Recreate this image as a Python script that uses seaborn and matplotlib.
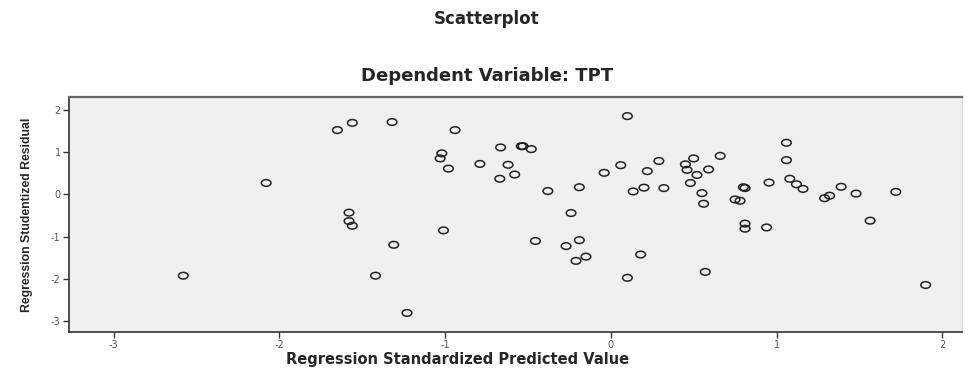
import numpy as np
import pandas as pd
import matplotlib
matplotlib.use("Agg")
import matplotlib.pyplot as plt
from matplotlib.path import Path
import seaborn as sns

predicted = [
    -2.08, -2.58,
    -1.65, -1.56, -1.32, -0.94, 0.10, -1.02, -1.03, -0.98, -0.665, -0.54,
    -0.53, -0.48, -0.79, -0.62, -0.58, -0.67, -0.38, -0.19, -0.04, 0.06,
    0.22, 0.135, 0.20, -1.58, -1.58, -1.56, -1.01, -1.31, -1.42, -1.23,
    -0.24, -0.455, -0.27, -0.19, -0.15, -0.21, 0.18, 0.10,
    0.29, 0.50, 0.66, 0.45, 0.46, 0.52, 0.59, 0.48, 0.32, 0.55, 0.56,
    1.06, 1.06, 1.08, 1.12, 1.16, 0.80, 0.81, 0.75, 0.78, 0.955, 0.81,
    0.81, 0.94, 0.57, 1.29, 1.32, 1.39, 1.48, 1.565, 1.72, 1.90,
]
residual = [
    0.27, -1.92,
    1.52, 1.69, 1.71, 1.52, 1.85, 0.97, 0.85, 0.61, 1.11, 1.14,
    1.14, 1.07, 0.72, 0.70, 0.47, 0.37, 0.08, 0.17, 0.51, 0.69,
    0.55, 0.07, 0.16, -0.43, -0.63, -0.74, -0.85, -1.19, -1.92, -2.80,
    -0.44, -1.10, -1.22, -1.08, -1.47, -1.57, -1.42, -1.97,
    0.79, 0.85, 0.91, 0.71, 0.58, 0.46, 0.59, 0.27, 0.15, 0.03, -0.22,
    1.22, 0.81, 0.37, 0.24, 0.13, 0.17, 0.15, -0.12, -0.15, 0.28, -0.69,
    -0.81, -0.78, -1.83, -0.09, -0.03, 0.18, 0.02, -0.62, 0.06, -2.14,
]
x_ticks = [-3, -2, -1, 0, 1, 2]
y_ticks = [2, 1, 0, -1, -2, -3]

df = pd.DataFrame({"pred": predicted, "resid": residual})

sns.set_style("white")
plt.rcParams["font.family"] = ["DejaVu Sans"]

# flattened circle, like the stretched SPSS export
circ = Path.unit_circle()
ellipse = Path(circ.vertices * np.array([1.45, 1.0]), circ.codes)

fig = plt.figure(figsize=(9.74, 3.70), dpi=100)
ax = fig.add_axes([0.0708, 0.1027, 0.917, 0.635])
ax.set_facecolor("#f0f0f0")

sns.scatterplot(
    data=df, x="pred", y="resid", ax=ax,
    marker=ellipse, s=48, facecolors="none",
    edgecolor="#222222", linewidth=1.1, legend=False,
)

ax.set_xlim(-3.27, 2.12)
ax.set_ylim(-3.25, 2.30)
ax.set_xticks(x_ticks)
ax.set_yticks(y_ticks)
ax.set_xticklabels([str(v) for v in x_ticks], fontsize=7, color="#555555")
ax.set_yticklabels([str(v) for v in y_ticks], fontsize=7, color="#555555")
ax.tick_params(axis="both", direction="out", length=4, width=1,
               color="#333333", left=True, bottom=True, pad=2)

for side in ["left", "bottom"]:
    ax.spines[side].set_color("#333333")
    ax.spines[side].set_linewidth(1.2)
ax.spines["top"].set_color("#666666")
ax.spines["top"].set_linewidth(1.6)
ax.spines["right"].set_color("#d8d8d8")
ax.spines["right"].set_linewidth(0.8)

ax.set_xlabel("Regression Standardized Predicted Value",
              fontsize=10.5, fontweight="bold")
ax.xaxis.set_label_coords(0.4356, -0.085)
ax.set_ylabel("Regression Studentized Residual",
              fontsize=8.8, fontweight="bold",
              family=["Liberation Sans", "DejaVu Sans"])
ax.yaxis.set_label_coords(-0.040, 0.50)

fig.text(0.5, 0.95, "Scatterplot", ha="center", va="center",
         fontsize=12, fontweight="bold")
fig.text(0.5, 0.795, "Dependent Variable: TPT", ha="center", va="center",
         fontsize=13, fontweight="bold")

fig.savefig("out.png", dpi=100)
plt.close(fig)
